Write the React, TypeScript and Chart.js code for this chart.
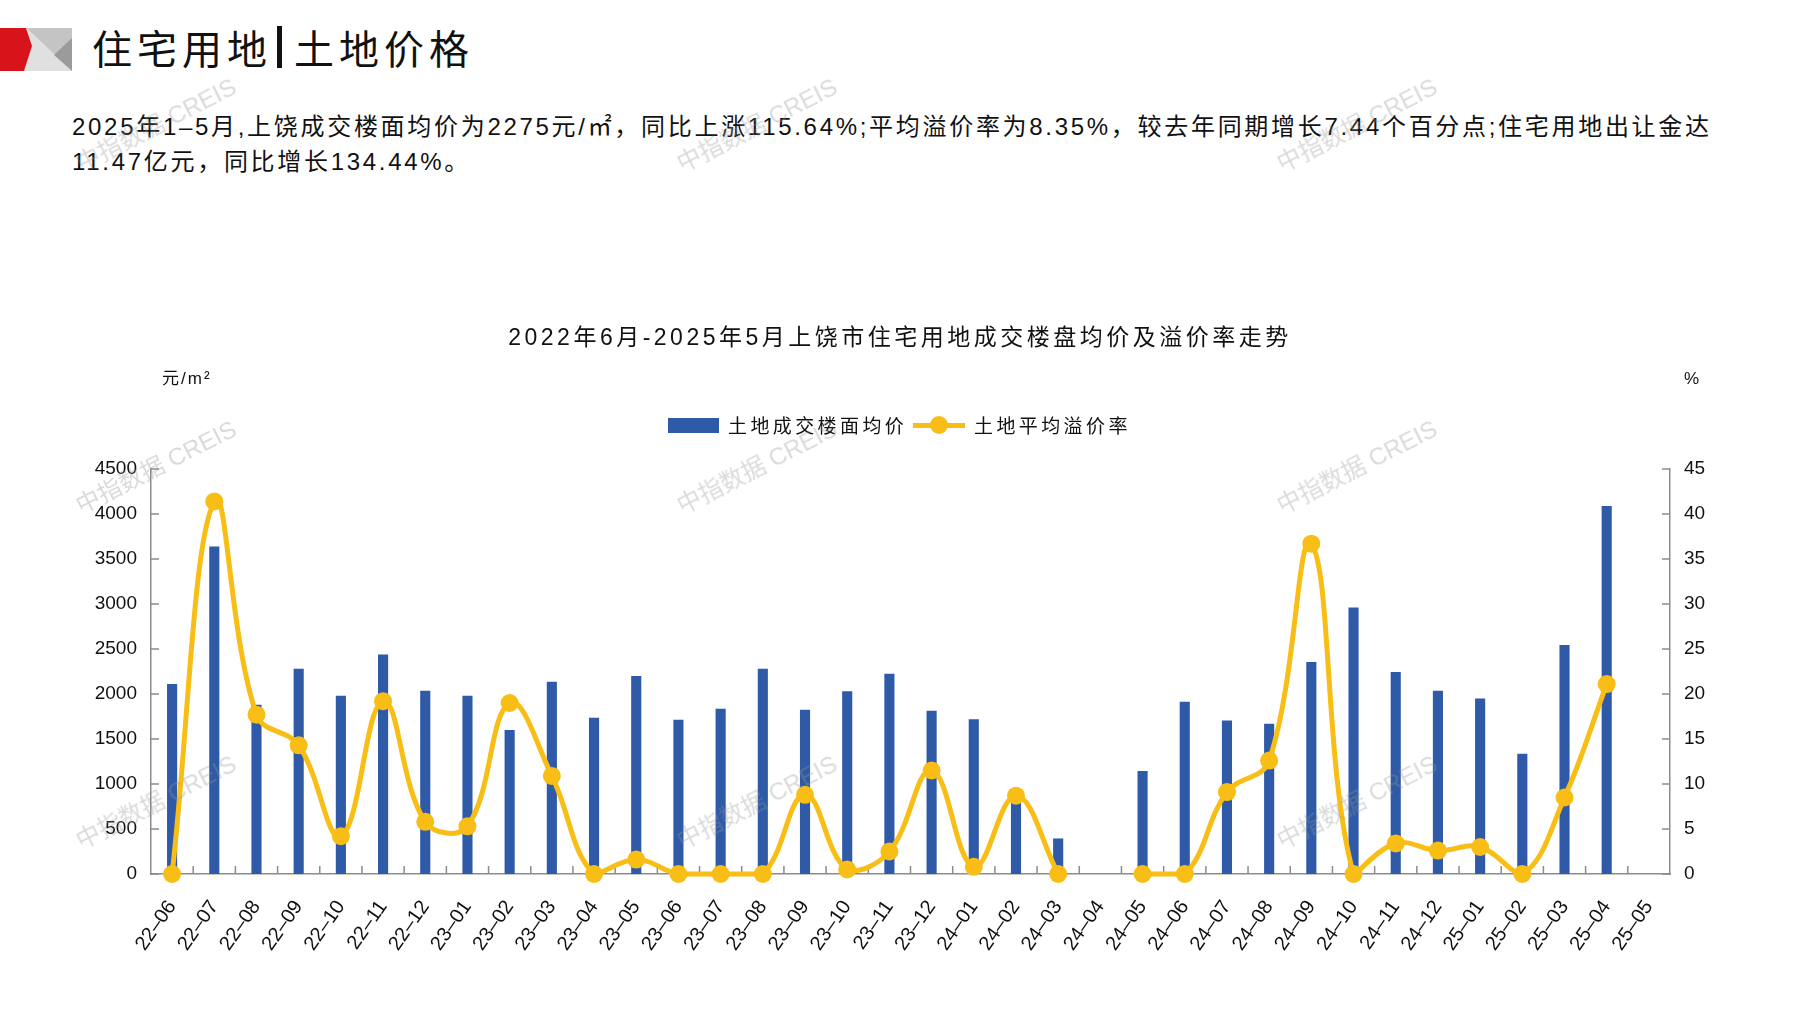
import React, { useEffect, useRef } from "react";
import { Chart, registerables } from "chart.js";

Chart.register(...registerables);

// ---------- data ----------
const categories = [
  "22–06", "22–07", "22–08", "22–09", "22–10", "22–11", "22–12",
  "23–01", "23–02", "23–03", "23–04", "23–05", "23–06", "23–07", "23–08", "23–09", "23–10", "23–11", "23–12",
  "24–01", "24–02", "24–03", "24–04", "24–05", "24–06", "24–07", "24–08", "24–09", "24–10", "24–11", "24–12",
  "25–01", "25–02", "25–03", "25–04", "25–05",
];

// 土地成交楼面均价 (元/㎡)
const avgFloorPrice: (number | null)[] = [
  2110, 3640, 1880, 2280, 1980, 2440, 2035,
  1980, 1600, 2135, 1735, 2200, 1715, 1835, 2280, 1825, 2030, 2225, 1815,
  1720, 820, 395, null, 1145, 1915, 1705, 1670, 2355, 2960, 2245, 2035,
  1950, 1335, 2545, 4090, null,
];

// 土地平均溢价率 (%)
const premiumRate: (number | null)[] = [
  0, 41.4, 17.7, 14.3, 4.2, 19.2, 5.8,
  5.3, 19.0, 10.9, 0, 1.6, 0, 0, 0, 8.8, 0.5, 2.5, 11.5,
  0.8, 8.7, 0, null, 0, 0, 9.1, 12.6, 36.7, 0, 3.4, 2.6,
  3.0, 0, 8.5, 21.1, null,
];

const leftAxisMax = 4500;
const leftAxisStep = 500;
const rightAxisMax = 45;
const rightAxisStep = 5;

const seriesNames = ["土地成交楼面均价", "土地平均溢价率"];
const pageTitleA = "住宅用地";
const pageTitleB = "土地价格";
const paragraphLine1 =
  "2025年1–5月,上饶成交楼面均价为2275元/㎡，同比上涨115.64%;平均溢价率为8.35%，较去年同期增长7.44个百分点;住宅用地出让金达";
const paragraphLine2 = "11.47亿元，同比增长134.44%。";
const chartTitle = "2022年6月-2025年5月上饶市住宅用地成交楼盘均价及溢价率走势";
const leftUnit = "元/m²";
const rightUnit = "%";
const watermarkText = "中指数据 CREIS";

// ---------- styles ----------
const BAR_COLOR = "#2E5AA7";
const LINE_COLOR = "#F8BE16";
const AXIS_COLOR = "#8C8C8C";
const TEXT_COLOR = "#111111";
const LATIN = '"Liberation Sans", "Noto Sans CJK SC", sans-serif';
const CJK = '"Noto Sans CJK SC", "Liberation Sans", sans-serif';

const watermarkSpots = [
  [155, 123], [756, 123], [1356, 123],
  [155, 465], [756, 465], [1356, 465],
  [155, 800], [756, 800], [1356, 800],
];

const inwardTicks = {
  id: "inwardTicks",
  beforeDatasetsDraw(chart: any) {
    const { ctx, chartArea } = chart;
    const x = chart.scales.x;
    const y = chart.scales.y;
    const y1 = chart.scales.y1;
    ctx.save();
    ctx.strokeStyle = AXIS_COLOR;
    ctx.lineWidth = 1.5;
    ctx.beginPath();
    for (let i = 1; i < categories.length; i++) {
      const px = (x.getPixelForValue(i - 1) + x.getPixelForValue(i)) / 2;
      ctx.moveTo(px, chartArea.bottom);
      ctx.lineTo(px, chartArea.bottom - 8);
    }
    y.ticks.forEach((t: any) => {
      const py = y.getPixelForValue(t.value);
      ctx.moveTo(chartArea.left, py);
      ctx.lineTo(chartArea.left + 8, py);
    });
    y1.ticks.forEach((t: any) => {
      const py = y1.getPixelForValue(t.value);
      ctx.moveTo(chartArea.right, py);
      ctx.lineTo(chartArea.right - 8, py);
    });
    ctx.stroke();
    ctx.restore();
  },
};

export default function App() {
  const canvasRef = useRef<HTMLCanvasElement>(null);

  useEffect(() => {
    document.body.style.margin = "0";
    const canvas = canvasRef.current;
    if (!canvas) return;
    const yFont = { family: '"Liberation Sans", sans-serif', size: 19 };
    const xFont = { family: '"Liberation Sans", sans-serif', size: 20 };
    const plain = (v: any) => String(v);
    const chart = new Chart(canvas, {
      type: "bar",
      data: {
        labels: categories,
        datasets: [
          {
            type: "line",
            label: seriesNames[1],
            data: premiumRate,
            yAxisID: "y1",
            borderColor: LINE_COLOR,
            backgroundColor: LINE_COLOR,
            borderWidth: 5,
            pointRadius: 9,
            pointBorderWidth: 0,
            pointBackgroundColor: LINE_COLOR,
            tension: 0.4,
            spanGaps: false,
            clip: false,
            order: 0,
          } as any,
          {
            type: "bar",
            label: seriesNames[0],
            data: avgFloorPrice,
            yAxisID: "y",
            backgroundColor: BAR_COLOR,
            categoryPercentage: 1,
            barPercentage: 0.24,
            order: 1,
          } as any,
        ],
      },
      options: {
        animation: false,
        responsive: false,
        layout: { padding: { top: 469, left: 0, right: 0, bottom: 0 } },
        plugins: {
          legend: { display: false },
          title: { display: false },
          tooltip: { enabled: false },
        },
        scales: {
          x: {
            type: "category",
            grid: { display: false, drawTicks: false },
            border: { color: AXIS_COLOR, width: 1.5 },
            ticks: {
              autoSkip: false,
              minRotation: 55,
              maxRotation: 55,
              padding: 22,
              color: TEXT_COLOR,
              font: xFont,
            },
            afterFit: (s: any) => {
              s.height = 136;
            },
          },
          y: {
            position: "left",
            min: 0,
            max: leftAxisMax,
            grid: { display: false, drawTicks: false },
            border: { color: AXIS_COLOR, width: 1.5 },
            ticks: { stepSize: leftAxisStep, padding: 14, color: TEXT_COLOR, font: yFont, callback: plain },
            afterFit: (s: any) => {
              s.width = 151;
            },
          },
          y1: {
            position: "right",
            min: 0,
            max: rightAxisMax,
            grid: { display: false, drawTicks: false },
            border: { color: AXIS_COLOR, width: 1.5 },
            ticks: { stepSize: rightAxisStep, padding: 14, color: TEXT_COLOR, font: yFont, callback: plain },
            afterFit: (s: any) => {
              s.width = 127;
            },
          },
        },
      } as any,
      plugins: [inwardTicks],
    });
    return () => chart.destroy();
  }, []);

  const abs: React.CSSProperties = { position: "absolute", whiteSpace: "nowrap", color: TEXT_COLOR };

  return (
    <div style={{ position: "relative", width: 1797, height: 1010, overflow: "hidden", background: "#fff" }}>
      {/* logo */}
      <svg style={{ position: "absolute", left: 0, top: 0 }} width={80} height={80}>
        <polygon points="26,28 72,28 72,71" fill="#c4c4c4" />
        <polygon points="26,28 72,71 24,71 32,46" fill="#e0e0e0" />
        <polygon points="54,55 72,38 72,71" fill="#9b9b9b" />
        <polygon points="0,28 26,28 32,46 24,71 0,71" fill="#d7141a" />
      </svg>

      {/* page title */}
      <div style={{ ...abs, left: 92, top: 47, transform: "translateY(-50%)", fontFamily: CJK, fontSize: 40, letterSpacing: 5, lineHeight: "48px", display: "flex", alignItems: "center" }}>
        <span>{pageTitleA}</span>
        <span style={{ display: "inline-block", width: 5, height: 42, background: "#111", margin: "0 12px 0 5px" }} />
        <span>{pageTitleB}</span>
      </div>

      {/* paragraph */}
      <div style={{ ...abs, left: 72, top: 127, transform: "translateY(-50%)", fontFamily: LATIN, fontSize: 24, letterSpacing: 2.7, lineHeight: "30px" }}>
        {paragraphLine1}
      </div>
      <div style={{ ...abs, left: 72, top: 162, transform: "translateY(-50%)", fontFamily: LATIN, fontSize: 24, letterSpacing: 2.7, lineHeight: "30px" }}>
        {paragraphLine2}
      </div>

      <canvas ref={canvasRef} width={1797} height={1010} style={{ position: "absolute", left: 0, top: 0, width: 1797, height: 1010 }} />

      {/* chart title */}
      <div style={{ ...abs, left: 900, top: 337, transform: "translate(-50%,-50%)", fontFamily: LATIN, fontSize: 23, letterSpacing: 3.5, lineHeight: "28px" }}>
        {chartTitle}
      </div>

      {/* units */}
      <div style={{ ...abs, left: 162, top: 379, transform: "translateY(-50%)", fontFamily: LATIN, fontSize: 17, letterSpacing: 2, lineHeight: "22px" }}>
        {leftUnit}
      </div>
      <div style={{ ...abs, left: 1684, top: 379, transform: "translateY(-50%)", fontFamily: LATIN, fontSize: 17, lineHeight: "22px" }}>
        {rightUnit}
      </div>

      {/* legend */}
      <div style={{ position: "absolute", left: 668, top: 418, width: 51, height: 15, background: BAR_COLOR }} />
      <div style={{ ...abs, left: 728, top: 425, transform: "translateY(-50%)", fontFamily: CJK, fontSize: 19, letterSpacing: 3.4, lineHeight: "24px" }}>
        {seriesNames[0]}
      </div>
      <div style={{ position: "absolute", left: 913, top: 423, width: 52, height: 5, background: LINE_COLOR }} />
      <div style={{ position: "absolute", left: 930, top: 416, width: 18, height: 18, borderRadius: 9, background: LINE_COLOR }} />
      <div style={{ ...abs, left: 974, top: 425, transform: "translateY(-50%)", fontFamily: CJK, fontSize: 19, letterSpacing: 3.4, lineHeight: "24px" }}>
        {seriesNames[1]}
      </div>

      {/* watermarks */}
      {watermarkSpots.map(([x, y], i) => (
        <div
          key={i}
          style={{
            position: "absolute",
            left: x,
            top: y,
            transform: "translate(-50%,-50%) rotate(-27deg)",
            whiteSpace: "nowrap",
            fontFamily: LATIN,
            fontSize: 24,
            color: "rgba(150,150,150,0.35)",
            pointerEvents: "none",
          }}
        >
          {watermarkText}
        </div>
      ))}
    </div>
  );
}
